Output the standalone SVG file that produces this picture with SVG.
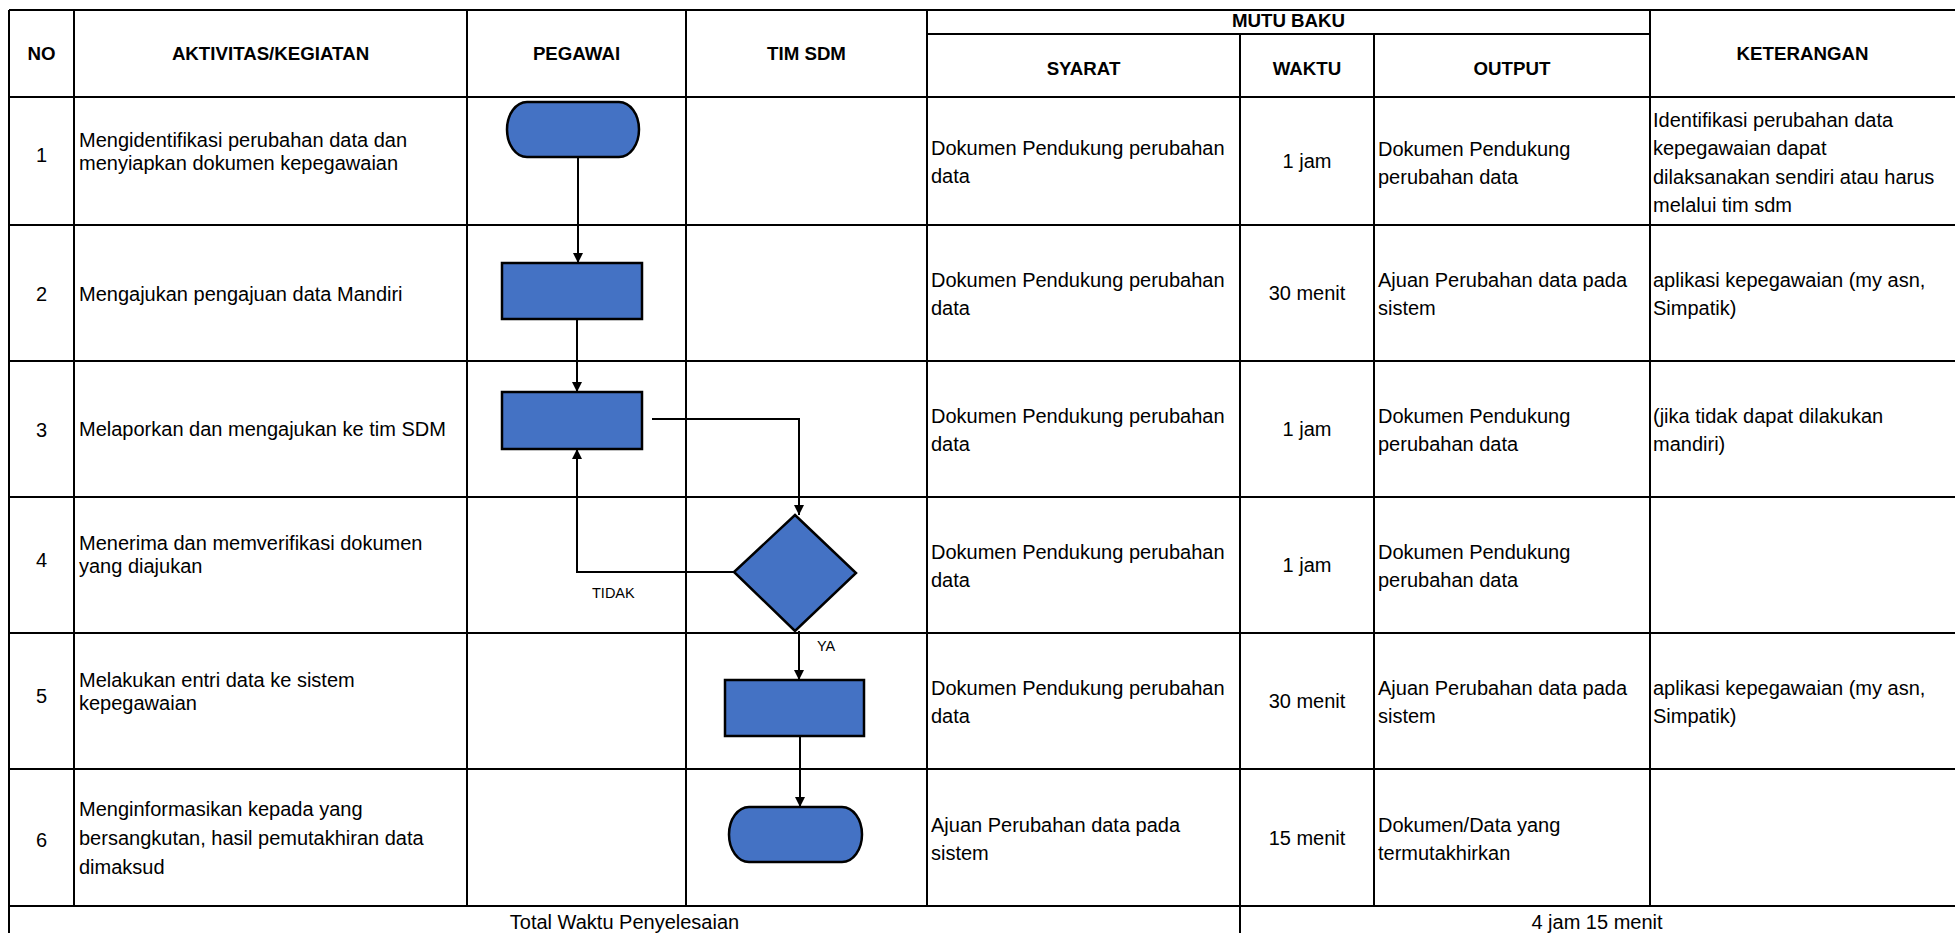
<svg xmlns="http://www.w3.org/2000/svg" width="1955" height="933" viewBox="0 0 1955 933">
<style>
.bg{fill:#ffffff}
.grid line{stroke:#000;stroke-width:2}
.hd{font-family:"Liberation Sans",Arial,sans-serif;font-weight:bold;font-size:18.7px;fill:#000;text-anchor:middle}
.tx{font-family:"Liberation Sans",Arial,sans-serif;font-size:20px;fill:#000}
.c{text-anchor:middle}
.lbl{font-family:"Liberation Sans",Arial,sans-serif;font-size:14.5px;fill:#000}
.shape{fill:#4472C4;stroke:#000;stroke-width:2.5}
.conn path{fill:none;stroke:#000;stroke-width:2;marker-end:url(#arr)}
</style>
<defs>
<marker id="arr" markerUnits="userSpaceOnUse" markerWidth="10" markerHeight="10" refX="10" refY="5" orient="auto">
<path d="M0,0 L10,5 L0,10 z" fill="#000"/>
</marker>
</defs>
<rect class="bg" x="0" y="0" width="1955" height="933"/>

<g id="grid" class="grid">
<line x1="9" y1="10" x2="1955" y2="10"/>
<line x1="9" y1="10" x2="9" y2="933"/>
<line x1="927" y1="34" x2="1650" y2="34"/>
<line x1="9" y1="97" x2="1955" y2="97"/>
<line x1="9" y1="225" x2="1955" y2="225"/>
<line x1="9" y1="361" x2="1955" y2="361"/>
<line x1="9" y1="497" x2="1955" y2="497"/>
<line x1="9" y1="633" x2="1955" y2="633"/>
<line x1="9" y1="769" x2="1955" y2="769"/>
<line x1="9" y1="906" x2="1955" y2="906"/>
<line x1="74" y1="10" x2="74" y2="906"/>
<line x1="467" y1="10" x2="467" y2="906"/>
<line x1="686" y1="10" x2="686" y2="906"/>
<line x1="927" y1="10" x2="927" y2="906"/>
<line x1="1240" y1="34" x2="1240" y2="933"/>
<line x1="1374" y1="34" x2="1374" y2="906"/>
<line x1="1650" y1="10" x2="1650" y2="906"/>
</g>

<g id="header">
<text class="hd" x="41.5" y="60">NO</text>
<text class="hd" x="270.5" y="60">AKTIVITAS/KEGIATAN</text>
<text class="hd" x="576.5" y="60">PEGAWAI</text>
<text class="hd" x="806.5" y="60">TIM SDM</text>
<text class="hd" x="1288.5" y="27">MUTU BAKU</text>
<text class="hd" x="1083.5" y="75">SYARAT</text>
<text class="hd" x="1307" y="75">WAKTU</text>
<text class="hd" x="1512" y="75">OUTPUT</text>
<text class="hd" x="1802.5" y="60">KETERANGAN</text>
</g>

<g id="col-no" class="tx c">
<text x="41.5" y="162">1</text>
<text x="41.5" y="301">2</text>
<text x="41.5" y="437">3</text>
<text x="41.5" y="567">4</text>
<text x="41.5" y="703">5</text>
<text x="41.5" y="847">6</text>
</g>

<g id="col-aktivitas" class="tx">
<text x="79" y="146.5">Mengidentifikasi perubahan data dan</text>
<text x="79" y="169.5">menyiapkan dokumen kepegawaian</text>
<text x="79" y="301">Mengajukan pengajuan data Mandiri</text>
<text x="79" y="436">Melaporkan dan mengajukan ke tim SDM</text>
<text x="79" y="550">Menerima dan memverifikasi dokumen</text>
<text x="79" y="573">yang diajukan</text>
<text x="79" y="687">Melakukan entri data ke sistem</text>
<text x="79" y="710">kepegawaian</text>
<text x="79" y="816">Menginformasikan kepada yang</text>
<text x="79" y="845">bersangkutan, hasil pemutakhiran data</text>
<text x="79" y="874">dimaksud</text>
</g>

<g id="col-syarat" class="tx">
<text x="931" y="155">Dokumen Pendukung perubahan</text>
<text x="931" y="183">data</text>
<text x="931" y="287">Dokumen Pendukung perubahan</text>
<text x="931" y="315">data</text>
<text x="931" y="423">Dokumen Pendukung perubahan</text>
<text x="931" y="451">data</text>
<text x="931" y="559">Dokumen Pendukung perubahan</text>
<text x="931" y="587">data</text>
<text x="931" y="695">Dokumen Pendukung perubahan</text>
<text x="931" y="723">data</text>
<text x="931" y="832">Ajuan Perubahan data pada</text>
<text x="931" y="860">sistem</text>
</g>

<g id="col-waktu" class="tx c">
<text x="1307" y="168">1 jam</text>
<text x="1307" y="300">30 menit</text>
<text x="1307" y="436">1 jam</text>
<text x="1307" y="572">1 jam</text>
<text x="1307" y="708">30 menit</text>
<text x="1307" y="845">15 menit</text>
</g>

<g id="col-output" class="tx">
<text x="1378" y="156">Dokumen Pendukung</text>
<text x="1378" y="184">perubahan data</text>
<text x="1378" y="287">Ajuan Perubahan data pada</text>
<text x="1378" y="315">sistem</text>
<text x="1378" y="423">Dokumen Pendukung</text>
<text x="1378" y="451">perubahan data</text>
<text x="1378" y="559">Dokumen Pendukung</text>
<text x="1378" y="587">perubahan data</text>
<text x="1378" y="695">Ajuan Perubahan data pada</text>
<text x="1378" y="723">sistem</text>
<text x="1378" y="832">Dokumen/Data yang</text>
<text x="1378" y="860">termutakhirkan</text>
</g>

<g id="col-keterangan" class="tx">
<text x="1653" y="127">Identifikasi perubahan data</text>
<text x="1653" y="155">kepegawaian dapat</text>
<text x="1653" y="184">dilaksanakan sendiri atau harus</text>
<text x="1653" y="212">melalui tim sdm</text>
<text x="1653" y="287">aplikasi kepegawaian (my asn,</text>
<text x="1653" y="315">Simpatik)</text>
<text x="1653" y="423">(jika tidak dapat dilakukan</text>
<text x="1653" y="451">mandiri)</text>
<text x="1653" y="695">aplikasi kepegawaian (my asn,</text>
<text x="1653" y="723">Simpatik)</text>
</g>

<g id="total" class="tx c">
<text x="624.5" y="929">Total Waktu Penyelesaian</text>
<text x="1597" y="929">4 jam 15 menit</text>
</g>

<g id="connectors" class="conn">
<path d="M578,157 L578,263"/>
<path d="M577,319 L577,392"/>
<path d="M652,419 L799,419 L799,515"/>
<path d="M734,572 L577,572 L577,449"/>
<path d="M799,631 L799,680"/>
<path d="M800,736 L800,807"/>
</g>

<g id="labels" class="lbl">
<text x="592" y="598">TIDAK</text>
<text x="817" y="651">YA</text>
</g>

<g id="node-start">
<rect class="shape" x="507" y="102" width="132" height="55" rx="20" ry="27.5"/>
</g>
<g id="node-ajukan-mandiri">
<rect class="shape" x="502" y="263" width="140" height="56"/>
</g>
<g id="node-lapor">
<rect class="shape" x="502" y="392" width="140" height="57"/>
</g>
<g id="node-verifikasi">
<polygon class="shape" points="795,515 856,573 795,631 734,572"/>
</g>
<g id="node-entri">
<rect class="shape" x="725" y="680" width="139" height="56"/>
</g>
<g id="node-end">
<rect class="shape" x="729" y="807" width="133" height="55" rx="20" ry="27.5"/>
</g>
</svg>
